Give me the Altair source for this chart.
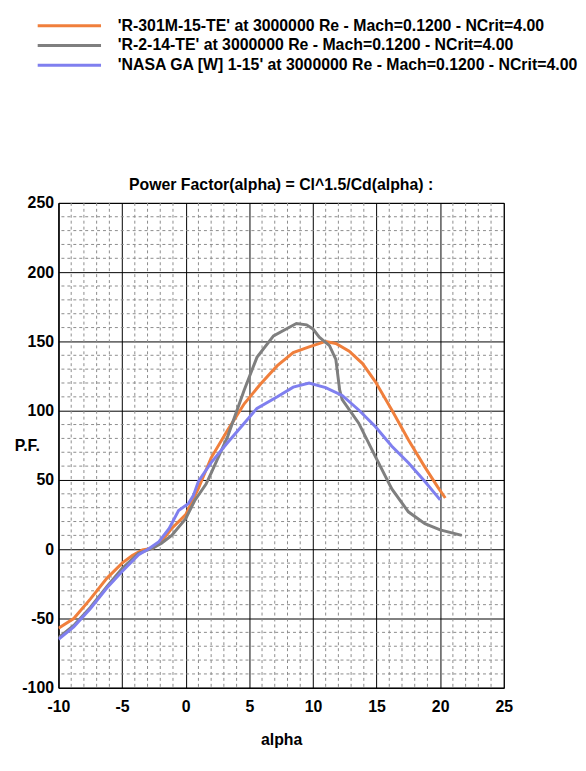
import altair as alt
import pandas as pd

series_names = [
    "'R-301M-15-TE' at 3000000 Re - Mach=0.1200 - NCrit=4.00",
    "'R-2-14-TE' at 3000000 Re - Mach=0.1200 - NCrit=4.00",
    "'NASA GA [W] 1-15' at 3000000 Re - Mach=0.1200 - NCrit=4.00",
]
series_colors = ["#F07F3C", "#7F7F7F", "#7F7FEF"]

orange_alpha = [-10, -8.8, -7.5, -6.2, -5, -4.2, -3.4, -2.6, -1.9, -1.1, 0, 1, 2, 3.3, 4.6,
                5.9, 7.2, 8.45, 9.7, 11, 11.8, 12.85, 13.9, 14.9, 16.2, 17.5, 18.75, 19.8, 20.4]
orange_pf = [-57, -50, -36, -21, -10, -4.5, -0.5, 0.7, 5.5, 15, 25, 44, 66, 86, 105,
             119.5, 132.5, 142, 146, 150, 148.5, 143, 134, 121, 100.5, 79, 60, 45, 37]

gray_alpha = [-10, -8.8, -7.5, -6.2, -5, -3.7, -2.6, -1.9, -1.1, 0, 0.7, 1.6, 2.0, 3.3, 4.6,
              5.6, 6.9, 7.9, 8.7, 9.5, 10.0, 10.5, 11.3, 11.8, 12.1, 12.3, 13.6, 14.9, 16.2,
              17.5, 18.8, 20, 21.7]
gray_pf = [-64, -55, -42, -27, -14, -3, 0.7, 4.3, 10, 22, 35, 47, 55, 81.5, 115,
           138.5, 154, 159, 163, 162, 159, 153, 147, 137, 115, 108, 91, 67, 43.5,
           27, 18.5, 14, 10]

blue_alpha = [-10, -8.8, -7.5, -6.2, -5, -3.7, -2.9, -2.1, -1.3, -0.56, 0.2, 0.6, 1.0, 2.0,
              3.3, 4.6, 5.6, 7.2, 8.45, 9.7, 11, 12.3, 13.6, 14.9, 16.2, 17.5, 18.75, 20.0]
blue_pf = [-65, -56, -43, -28, -16, -4, 0.3, 5.5, 15, 28, 32.8, 38.7, 49, 62.5,
           77, 91, 101.7, 110, 117, 120, 116.7, 111, 100.5, 88.6, 74.3, 62.5, 49.4, 35.6]

x_major = [-10, -5, 0, 5, 10, 15, 20, 25]
y_major = [-100, -50, 0, 50, 100, 150, 200, 250]
x_minor = [v for v in range(-9, 25) if v % 5 != 0]
y_minor = [v for v in range(-90, 250, 10) if v % 50 != 0]

rows = []
for name, xs, ys in zip(series_names, [orange_alpha, gray_alpha, blue_alpha],
                        [orange_pf, gray_pf, blue_pf]):
    for i, (a, p) in enumerate(zip(xs, ys)):
        rows.append({"series": name, "alpha": a, "pf": p, "idx": i})
df = pd.DataFrame(rows)

FONT = "Liberation Sans"
xscale = alt.Scale(domain=[-10, 25], nice=False, zero=False)
yscale = alt.Scale(domain=[-100, 250], nice=False, zero=False)

x_axis = alt.Axis(values=x_major, grid=True, gridColor="black", gridOpacity=1,
                  gridWidth=1, ticks=False, domainColor="black", domainWidth=1,
                  labelFont=FONT, labelFontSize=16, labelFontWeight="bold",
                  labelColor="black", labelPadding=11, labelFlush=False,
                  labelExpr="datum.value + ''",
                  title="alpha", titleFont=FONT, titleFontSize=16,
                  titleFontWeight="bold", titleColor="black",
                  titleBaseline="middle", titleY=52)
y_axis = alt.Axis(values=y_major, grid=True, gridColor="black", gridOpacity=1,
                  gridWidth=1, ticks=False, domainColor="black", domainWidth=1,
                  labelFont=FONT, labelFontSize=16, labelFontWeight="bold",
                  labelColor="black", labelPadding=5, labelFlush=False,
                  labelExpr="datum.value + ''",
                  title="P.F.", titleFont=FONT, titleFontSize=16,
                  titleFontWeight="bold", titleColor="black", titleAngle=0,
                  titleAlign="center", titleBaseline="middle",
                  titleX=-32, titleY=245)

minor_x = alt.Chart(pd.DataFrame({"alpha": x_minor})).mark_rule(
    color="#8c8c8c", strokeWidth=1, strokeDash=[3, 3]
).encode(x=alt.X("alpha:Q", scale=xscale, axis=x_axis))

minor_y = alt.Chart(pd.DataFrame({"pf": y_minor})).mark_rule(
    color="#8c8c8c", strokeWidth=1, strokeDash=[3, 3]
).encode(y=alt.Y("pf:Q", scale=yscale, axis=y_axis))

lines = alt.Chart(df).mark_line(strokeWidth=3, clip=True).encode(
    x=alt.X("alpha:Q", scale=xscale, axis=x_axis),
    y=alt.Y("pf:Q", scale=yscale, axis=y_axis),
    color=alt.Color("series:N",
                    scale=alt.Scale(domain=series_names, range=series_colors),
                    legend=alt.Legend(title=None, orient="none", legendX=3, legendY=-187,
                                      symbolType="M-16,0H16", symbolSize=16,
                                      symbolStrokeWidth=3, labelFont=FONT,
                                      labelFontSize=16, labelFontWeight="bold",
                                      labelColor="black", labelOffset=41,
                                      labelLimit=1000, rowPadding=4, padding=0,
                                      direction="vertical")),
    order="idx:Q",
)

chart = alt.layer(minor_x, minor_y, lines).properties(
    width=450, height=490,
    title=alt.TitleParams("Power Factor(alpha) = Cl^1.5/Cd(alpha) :", font=FONT,
                          fontSize=16, fontWeight="bold", color="black",
                          anchor="middle", frame="group", offset=10,
                          baseline="alphabetic", dy=200),
    autosize=alt.AutoSizeParams(type="none"),
    padding={"left": 51, "top": 193, "right": 75, "bottom": 65},
    background="white",
).configure_view(stroke="black", strokeWidth=1)

chart.save("out.html", embed_options={"renderer": "svg", "actions": False})
